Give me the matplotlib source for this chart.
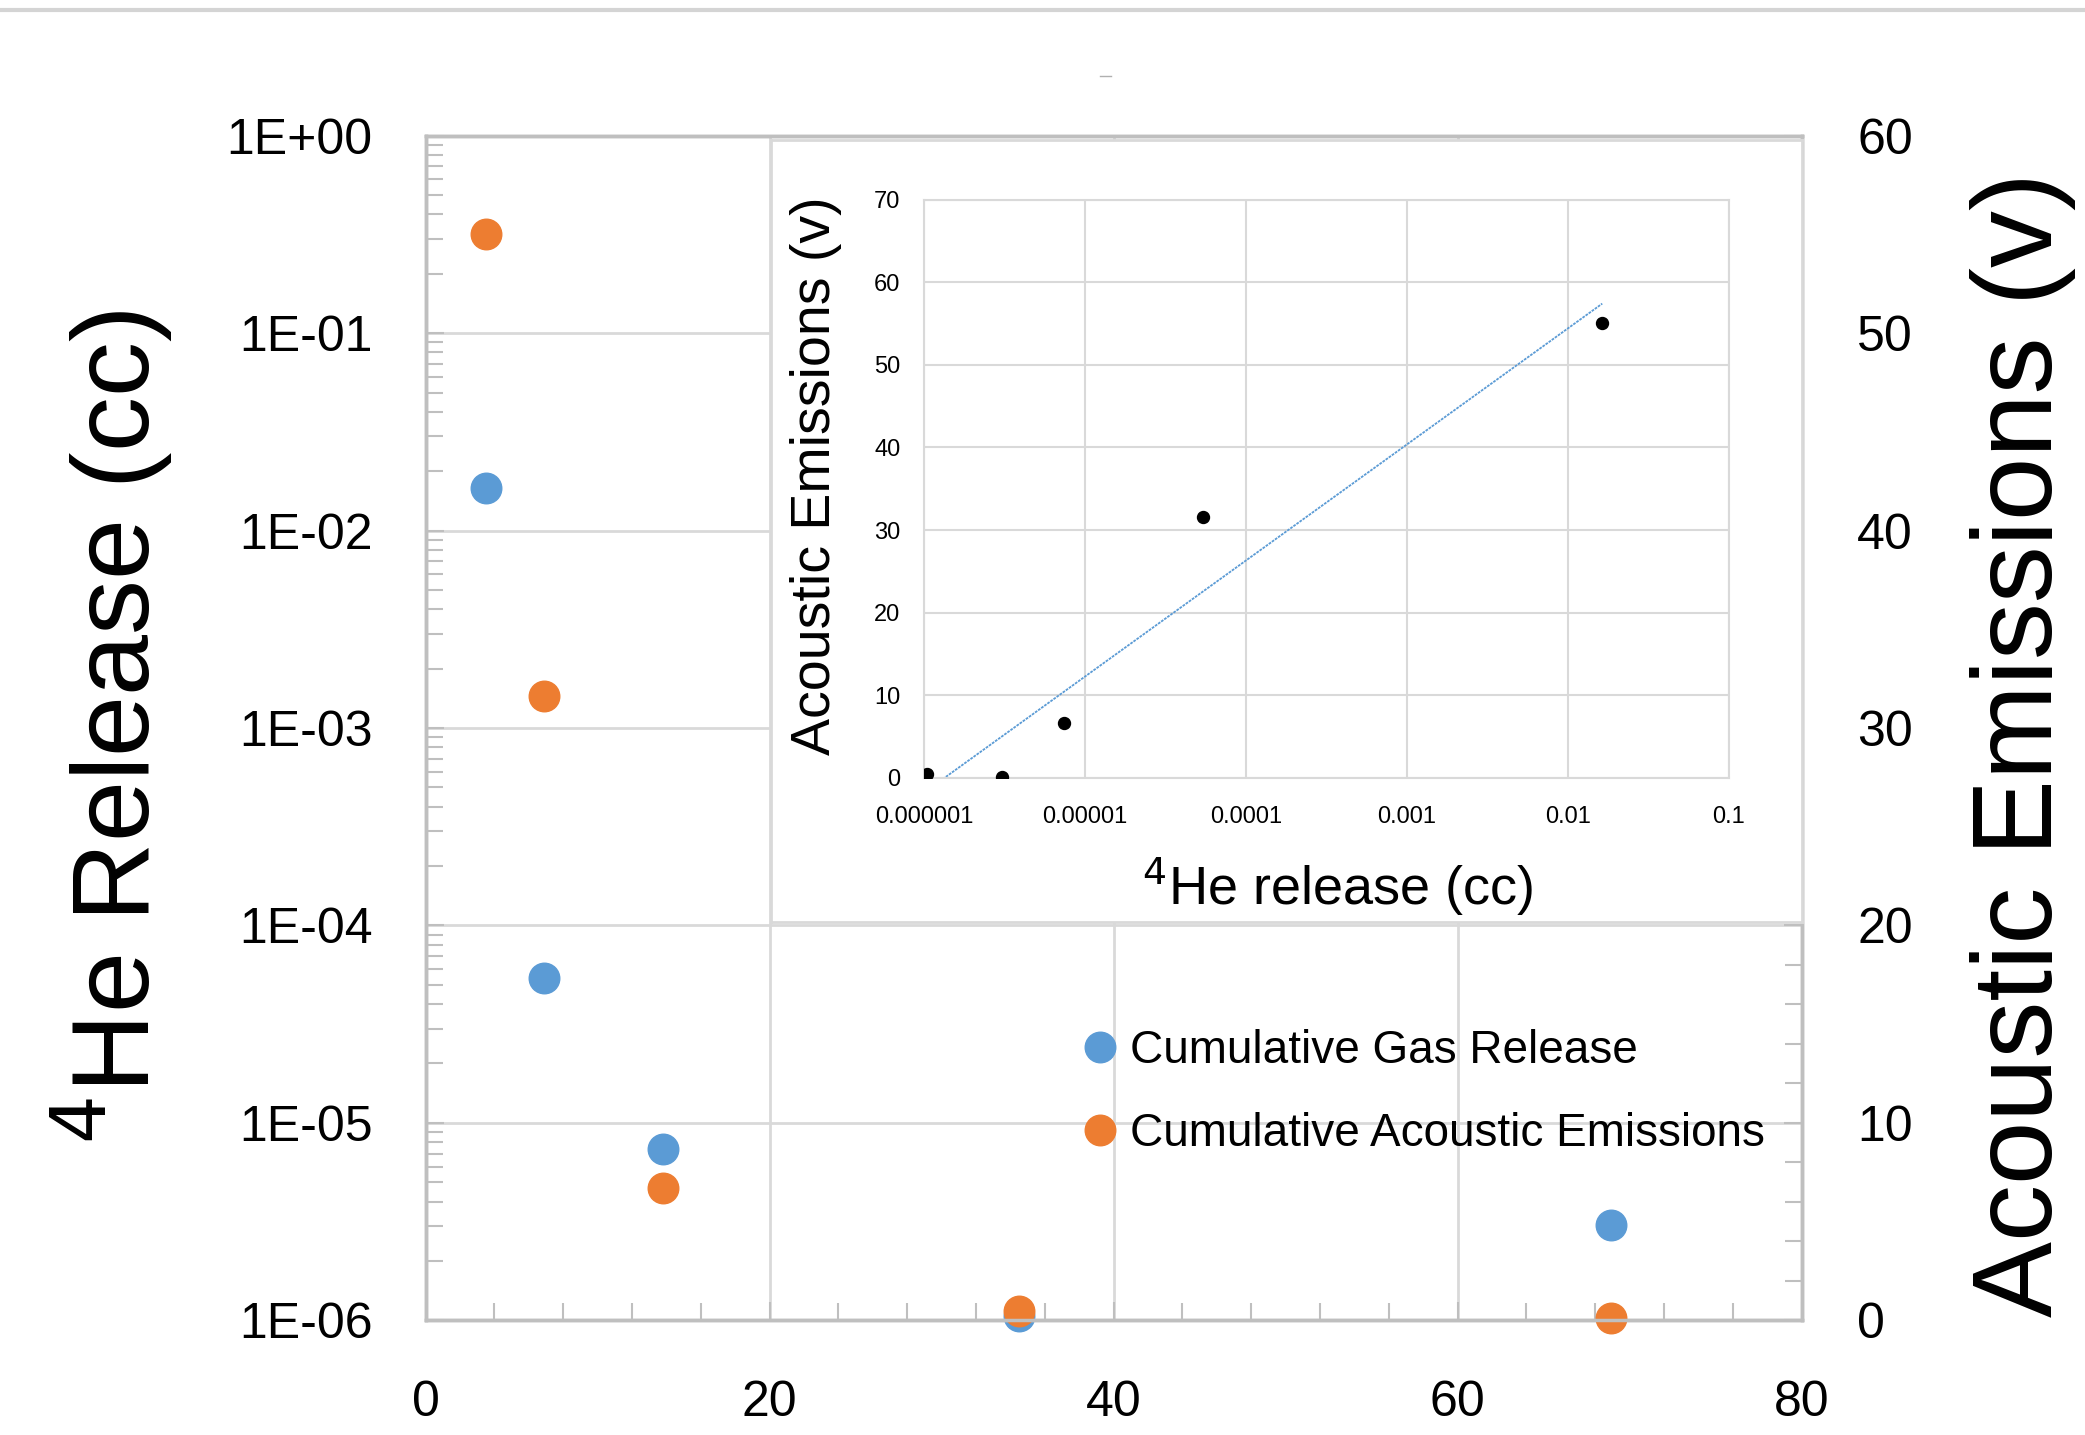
import numpy as np
import matplotlib
matplotlib.use("Agg")
import matplotlib.pyplot as plt
from matplotlib.ticker import LogLocator, MultipleLocator, NullFormatter
from matplotlib.lines import Line2D

# sample time (x), cumulative 4He release (left, log) and acoustic emissions (right)
time_hr = [3.5, 6.9, 13.8, 34.5, 68.9]
gas_cc = [1.64e-2, 5.4e-5, 7.4e-6, 1.05e-6, 3.05e-6]
ae_v = [55.0, 31.6, 6.7, 0.5, 0.1]

left_ticks = [1e-6, 1e-5, 1e-4, 1e-3, 1e-2, 1e-1, 1]
left_labels = ["1E-06", "1E-05", "1E-04", "1E-03", "1E-02", "1E-01", "1E+00"]
x_ticks = [0, 20, 40, 60, 80]
right_ticks = [0, 10, 20, 30, 40, 50, 60]
inset_x_ticks = [1e-6, 1e-5, 1e-4, 1e-3, 1e-2, 1e-1]
inset_x_labels = ["0.000001", "0.00001", "0.0001", "0.001", "0.01", "0.1"]
inset_y_ticks = [0, 10, 20, 30, 40, 50, 60, 70]

BLUE = "#5b9bd5"
ORANGE = "#ed7d31"
GRID = "#d9d9d9"
AXIS = "#bfbfbf"
REG = ["Liberation Sans", "DejaVu Sans"]

W, H = 2085, 1435
fig = plt.figure(figsize=(W / 100, H / 100), dpi=100)


def px_box(x0, y0, x1, y1):
    # pixel box (top-left origin) -> figure fraction rect
    return [x0 / W, 1 - y1 / H, (x1 - x0) / W, (y1 - y0) / H]


# main chart
ax = fig.add_axes(px_box(425.5, 135.6, 1801.7, 1320.4))
ax.set_yscale("log")
ax.set_ylim(1e-6, 1)
ax.set_xlim(0, 80)
ax.set_yticks(left_ticks, left_labels)
ax.yaxis.set_minor_locator(LogLocator(base=10, subs=np.arange(2, 10)))
ax.yaxis.set_minor_formatter(NullFormatter())
ax.set_xticks(x_ticks)
ax.xaxis.set_minor_locator(MultipleLocator(4))
ax.grid(True, which="major", color=GRID, lw=2)
ax.set_axisbelow(True)
for s in ax.spines.values():
    s.set_color(AXIS)
    s.set_linewidth(2.5)
ax.tick_params(axis="both", which="both", direction="in", color=AXIS, width=1.5)
ax.tick_params(axis="both", which="major", length=13, labelsize=36)
ax.tick_params(axis="both", which="minor", length=12)
ax.tick_params(axis="y", pad=38)
ax.tick_params(axis="x", pad=43)
for lab in ax.get_xticklabels() + ax.get_yticklabels():
    lab.set_family(REG)

ax.plot(time_hr, gas_cc, "o", ms=22, color=BLUE, clip_on=False,
        label="Cumulative Gas Release")
ax.set_ylabel(r"$^{4}$He Release (cc)", fontsize=79, family=REG)
ax.yaxis.set_label_coords(-0.1817, 0.5)

ax2 = ax.twinx()
ax2.set_ylim(0, 60)
ax2.set_yticks(right_ticks)
ax2.yaxis.set_minor_locator(MultipleLocator(2))
for s in ax2.spines.values():
    s.set_color(AXIS)
    s.set_linewidth(2.5)
ax2.tick_params(axis="y", which="both", direction="in", color=AXIS, width=1.5)
ax2.tick_params(axis="y", which="major", length=13, labelsize=36, pad=40)
ax2.tick_params(axis="y", which="minor", length=12)
for lab in ax2.get_yticklabels():
    lab.set_family(REG)
ax2.plot(time_hr, ae_v, "o", ms=22, color=ORANGE, clip_on=False,
         label="Cumulative Acoustic Emissions")
ax2.set_ylabel("Acoustic Emissions (v)", fontsize=82, family=REG, rotation=90)
ax2.yaxis.set_label_coords(1.1223, 0.4857)

h1, l1 = ax.get_legend_handles_labels()
h2, l2 = ax2.get_legend_handles_labels()
ax2.legend(h1 + h2, l1 + l2, loc="upper left", bbox_to_anchor=(0.4768, 0.2457),
           frameon=False, prop={"family": REG, "size": 33}, borderpad=0,
           borderaxespad=0, handlelength=0.8, handletextpad=0.25,
           labelspacing=0.85)

# inset chart with its white frame
frame = fig.add_axes(px_box(771, 140, 1802, 921.5))
frame.set_facecolor("white")
frame.set_xticks([])
frame.set_yticks([])
for s in frame.spines.values():
    s.set_color(GRID)
    s.set_linewidth(2)

ins = fig.add_axes(px_box(924, 199.5, 1728.6, 777.9))
ins.set_xscale("log")
ins.set_xlim(1e-6, 0.1)
ins.set_ylim(0, 70)
ins.set_xticks(inset_x_ticks, inset_x_labels)
ins.xaxis.set_minor_locator(plt.NullLocator())
ins.set_yticks(inset_y_ticks)
ins.grid(True, color=GRID, lw=1.5)
for s in ins.spines.values():
    s.set_color(GRID)
    s.set_linewidth(1.5)
ins.tick_params(length=0, labelsize=17)
ins.tick_params(axis="x", pad=20)
ins.tick_params(axis="y", pad=17)
for lab in ins.get_xticklabels() + ins.get_yticklabels():
    lab.set_family(REG)

ins.plot(gas_cc, ae_v, "o", ms=8.6, color="black", zorder=3)
# logarithmic trend line, as the spreadsheet would draw it
slope, icpt = np.polyfit(np.log10(gas_cc), ae_v, 1)
fit_x = np.logspace(np.log10(min(gas_cc)), np.log10(max(gas_cc)), 100)
ins.plot(fit_x, slope * np.log10(fit_x) + icpt, color=BLUE, lw=1.3,
         ls=(0, (1.5, 0.6)), zorder=2)
ins.set_ylabel("Acoustic Emissions (v)", fontsize=40, family=REG)
ins.yaxis.set_label_coords(-0.102, 0.522)
ins.set_xlabel(r"$^{4}$He release (cc)", fontsize=39, family=REG)
ins.xaxis.set_label_coords(0.514, -0.1333)

# thin grey rule along the top edge and the stray dash
fig.add_artist(Line2D([0, 1], [1 - 10 / H, 1 - 10 / H], color="#d4d4d4", lw=3,
                      transform=fig.transFigure))
fig.add_artist(Line2D([1100 / W, 1111 / W], [1 - 76 / H, 1 - 76 / H],
                      color="#b0b0b0", lw=1, transform=fig.transFigure))

fig.savefig("out.png", dpi=100)
